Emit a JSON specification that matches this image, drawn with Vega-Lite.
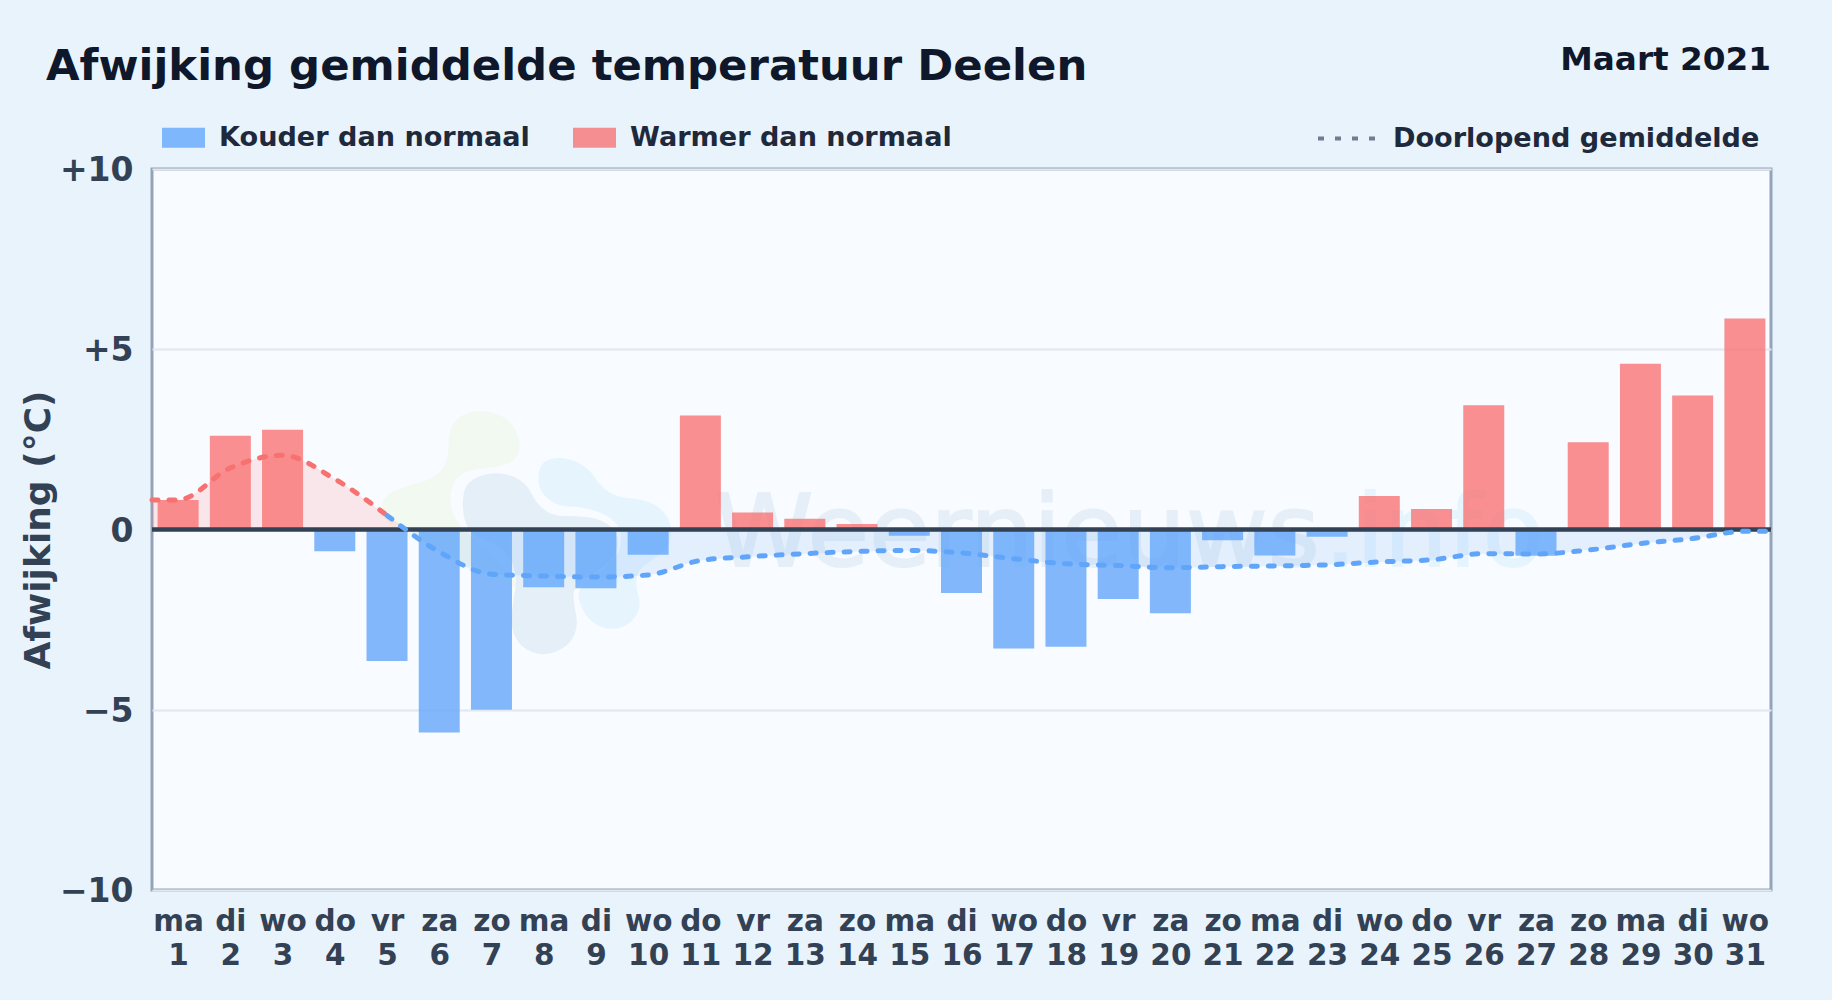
{"$schema":"https://vega.github.io/schema/vega-lite/v6.json","width":1619,"height":721,"autosize":{"type":"none"},"padding":{"left":152,"top":169,"right":61,"bottom":110},"background":"#e8f3fc","view":{"fill":"#f8fbff","stroke":"#94a3b8","strokeWidth":3},"config":{"font":"DejaVu Sans"},
"title":{"text":"Afwijking gemiddelde temperatuur Deelen","anchor":"start","frame":"group","dx":-106,"offset":-46,"fontSize":43.4,"fontWeight":"bold","color":"#0f172a","font":"DejaVu Sans"},
"datasets":{
"dagen":[{"day":1,"afwijking":0.82,"soort":"Warmer dan normaal"},{"day":2,"afwijking":2.6,"soort":"Warmer dan normaal"},{"day":3,"afwijking":2.77,"soort":"Warmer dan normaal"},{"day":4,"afwijking":-0.6,"soort":"Kouder dan normaal"},{"day":5,"afwijking":-3.65,"soort":"Kouder dan normaal"},{"day":6,"afwijking":-5.63,"soort":"Kouder dan normaal"},{"day":7,"afwijking":-5.0,"soort":"Kouder dan normaal"},{"day":8,"afwijking":-1.6,"soort":"Kouder dan normaal"},{"day":9,"afwijking":-1.63,"soort":"Kouder dan normaal"},{"day":10,"afwijking":-0.7,"soort":"Kouder dan normaal"},{"day":11,"afwijking":3.16,"soort":"Warmer dan normaal"},{"day":12,"afwijking":0.47,"soort":"Warmer dan normaal"},{"day":13,"afwijking":0.3,"soort":"Warmer dan normaal"},{"day":14,"afwijking":0.15,"soort":"Warmer dan normaal"},{"day":15,"afwijking":-0.17,"soort":"Kouder dan normaal"},{"day":16,"afwijking":-1.76,"soort":"Kouder dan normaal"},{"day":17,"afwijking":-3.3,"soort":"Kouder dan normaal"},{"day":18,"afwijking":-3.25,"soort":"Kouder dan normaal"},{"day":19,"afwijking":-1.93,"soort":"Kouder dan normaal"},{"day":20,"afwijking":-2.32,"soort":"Kouder dan normaal"},{"day":21,"afwijking":-0.3,"soort":"Kouder dan normaal"},{"day":22,"afwijking":-0.72,"soort":"Kouder dan normaal"},{"day":23,"afwijking":-0.2,"soort":"Kouder dan normaal"},{"day":24,"afwijking":0.93,"soort":"Warmer dan normaal"},{"day":25,"afwijking":0.57,"soort":"Warmer dan normaal"},{"day":26,"afwijking":3.45,"soort":"Warmer dan normaal"},{"day":27,"afwijking":-0.73,"soort":"Kouder dan normaal"},{"day":28,"afwijking":2.42,"soort":"Warmer dan normaal"},{"day":29,"afwijking":4.6,"soort":"Warmer dan normaal"},{"day":30,"afwijking":3.72,"soort":"Warmer dan normaal"},{"day":31,"afwijking":5.85,"soort":"Warmer dan normaal"}],
"warmLijn":[{"day":0.5,"gem":0.82},{"day":1,"gem":0.82},{"day":2,"gem":1.71},{"day":3,"gem":2.06},{"day":4,"gem":1.4},{"day":5,"gem":0.39}],
"koudLijn":[{"day":5,"gem":0.39},{"day":6,"gem":-0.62},{"day":7,"gem":-1.24},{"day":8,"gem":-1.29},{"day":9,"gem":-1.32},{"day":10,"gem":-1.26},{"day":11,"gem":-0.86},{"day":12,"gem":-0.75},{"day":13,"gem":-0.67},{"day":14,"gem":-0.61},{"day":15,"gem":-0.58},{"day":16,"gem":-0.65},{"day":17,"gem":-0.81},{"day":18,"gem":-0.95},{"day":19,"gem":-1.0},{"day":20,"gem":-1.06},{"day":21,"gem":-1.03},{"day":22,"gem":-1.01},{"day":23,"gem":-0.98},{"day":24,"gem":-0.9},{"day":25,"gem":-0.84},{"day":26,"gem":-0.67},{"day":27,"gem":-0.68},{"day":28,"gem":-0.57},{"day":29,"gem":-0.39},{"day":30,"gem":-0.25},{"day":31,"gem":-0.05},{"day":31.5,"gem":-0.05}],
"warmVlak":[{"day":0.5,"gem":0.82},{"day":1,"gem":0.82},{"day":2,"gem":1.71},{"day":3,"gem":2.06},{"day":4,"gem":1.4},{"day":5,"gem":0.39},{"day":5.4,"gem":0}],
"koudVlak":[{"day":5.4,"gem":0},{"day":6,"gem":-0.62},{"day":7,"gem":-1.24},{"day":8,"gem":-1.29},{"day":9,"gem":-1.32},{"day":10,"gem":-1.26},{"day":11,"gem":-0.86},{"day":12,"gem":-0.75},{"day":13,"gem":-0.67},{"day":14,"gem":-0.61},{"day":15,"gem":-0.58},{"day":16,"gem":-0.65},{"day":17,"gem":-0.81},{"day":18,"gem":-0.95},{"day":19,"gem":-1.0},{"day":20,"gem":-1.06},{"day":21,"gem":-1.03},{"day":22,"gem":-1.01},{"day":23,"gem":-0.98},{"day":24,"gem":-0.9},{"day":25,"gem":-0.84},{"day":26,"gem":-0.67},{"day":27,"gem":-0.68},{"day":28,"gem":-0.57},{"day":29,"gem":-0.39},{"day":30,"gem":-0.25},{"day":31,"gem":-0.05},{"day":31.5,"gem":-0.05}],
"logo":[{"naam":"logo"}]},
"layer":[
{"data":{"name":"logo"},"mark":{"type":"point","filled":true,"size":4,"opacity":1,"fill":"#f2f9f1","shape":"M-43,-83.5 Q-43,-100 -37,-107.5 Q-31,-115 -19.5,-117.5 Q-8,-120 5,-115.5 Q18,-111 23.5,-100.5 Q29,-90 28,-81 Q27,-72 19.5,-67.5 Q12,-63 -1,-62 Q-14,-61 -24,-58 Q-34,-55 -38,-45.5 Q-42,-36 -41,-26 Q-40,-16 -34,-8 Q-28,0 -14,12.5 Q0,25 16.5,43.5 Q33,62 17.5,56 Q2,50 -18,38.5 Q-38,27 -59.5,18.5 Q-81,10 -95.5,0 Q-110,-10 -110,-21 Q-110,-32 -99,-37.5 Q-88,-43 -73.5,-46.5 Q-59,-50 -51,-58.5 Q-43,-67 -43,-83.5 Z"},"encoding":{"x":{"datum":7,"type":"quantitative"},"y":{"datum":0,"type":"quantitative"}}},
{"data":{"name":"logo"},"mark":{"type":"point","filled":true,"size":4,"opacity":1,"fill":"#e6f4fe","shape":"M47.5,-45 Q46,-53 48.5,-61 Q51,-69 61.5,-71 Q72,-73 84,-68 Q96,-63 102.5,-53 Q109,-43 117.5,-37.5 Q126,-32 141,-31 Q156,-30 166.5,-22.5 Q177,-15 179,-4 Q181,7 176.5,15 Q172,23 159,31.5 Q146,40 145,48.5 Q144,57 147,67 Q150,77 144.5,86 Q139,95 129,98 Q119,101 109,97 Q99,93 93,83 Q87,73 87,65 Q87,57 107,43.5 Q127,30 129,15 Q131,0 123.5,-7.5 Q116,-15 102.5,-19 Q89,-23 77.5,-23 Q66,-23 57.5,-30 Q49,-37 47.5,-45 Z"},"encoding":{"x":{"datum":7,"type":"quantitative"},"y":{"datum":0,"type":"quantitative"}}},
{"data":{"name":"logo"},"mark":{"type":"point","filled":true,"size":4,"opacity":1,"fill":"#e5eff8","shape":"M-28.5,-21.5 Q-29,-33 -26.5,-40.5 Q-24,-48 -13.5,-52.5 Q-3,-57 9,-56 Q21,-55 29,-49 Q37,-43 40.5,-35 Q44,-27 52.5,-20 Q61,-13 73.5,-13.5 Q86,-14 98.5,-12 Q111,-10 118.5,-3.5 Q126,3 126.5,13 Q127,23 118,31.5 Q109,40 95.5,48.5 Q82,57 82,65 Q82,73 84.5,85 Q87,97 82,107 Q77,117 64.5,122 Q52,127 40.5,122.5 Q29,118 24,107.5 Q19,97 20,87 Q21,77 23.5,62 Q26,47 21,33.5 Q16,20 -1,13.5 Q-18,7 -23,-1.5 Q-28,-10 -28.5,-21.5 Z"},"encoding":{"x":{"datum":7,"type":"quantitative"},"y":{"datum":0,"type":"quantitative"}}},
{"data":{"values":[{"merk":"Weernieuws"}]},"mark":{"type":"text","align":"left","baseline":"alphabetic","fontSize":100,"font":"DejaVu Sans","color":"#e6eff8","stroke":"#e6eff8","strokeWidth":2},"encoding":{"x":{"datum":11.27,"type":"quantitative"},"y":{"datum":-1.0,"type":"quantitative"},"text":{"field":"merk"}}},
{"data":{"values":[{"merk":".info"}]},"mark":{"type":"text","align":"right","baseline":"alphabetic","fontSize":100,"font":"DejaVu Sans","color":"#e6f4fe","stroke":"#e6f4fe","strokeWidth":2},"encoding":{"x":{"datum":27.15,"type":"quantitative"},"y":{"datum":-1.0,"type":"quantitative"},"text":{"field":"merk"}}},
{"data":{"name":"warmVlak"},"mark":{"type":"area","interpolate":"monotone","color":"#f87171","opacity":0.15},"encoding":{"x":{"field":"day","type":"quantitative"},"y":{"field":"gem","type":"quantitative"},"y2":{"datum":0}}},
{"data":{"name":"koudVlak"},"mark":{"type":"area","interpolate":"monotone","color":"#60a5fa","opacity":0.13},"encoding":{"x":{"field":"day","type":"quantitative"},"y":{"field":"gem","type":"quantitative"},"y2":{"datum":0}}},
{"data":{"name":"dagen"},"mark":{"type":"bar","size":41,"opacity":0.78,"orient":"vertical"},"encoding":{"x":{"field":"day","type":"quantitative","scale":{"domain":[0.5,31.5],"nice":false,"zero":false,"padding":0},"axis":{"values":[1,2,3,4,5,6,7,8,9,10,11,12,13,14,15,16,17,18,19,20,21,22,23,24,25,26,27,28,29,30,31],"title":null,"grid":false,"domain":false,"ticks":false,"labelOverlap":false,"labelFlush":false,"labelBound":false,"labelFontSize":29.5,"labelFontWeight":"bold","labelColor":"#334155","labelFont":"DejaVu Sans","labelPadding":17,"labelLineHeight":34,"labelExpr":"[['zo','ma','di','wo','do','vr','za'][datum.value % 7], '' + datum.value]"}},"y":{"field":"afwijking","type":"quantitative","scale":{"domain":[-10,10],"nice":false},"axis":{"values":[-10,-5,0,5,10],"title":"Afwijking (°C)","titleFontSize":36,"titleFontWeight":"bold","titleColor":"#334155","titleFont":"DejaVu Sans","titlePadding":2,"grid":true,"gridColor":"#e2e8f0","gridWidth":2,"domain":false,"ticks":false,"labelFontSize":33,"labelFontWeight":"bold","labelColor":"#334155","labelFont":"DejaVu Sans","labelPadding":19,"labelOffset":1.5,"labelExpr":"datum.value > 0 ? '+' + datum.value : (datum.value < 0 ? '−' + (-datum.value) : '0')"}},"y2":{"datum":0},"color":{"field":"soort","type":"nominal","scale":{"domain":["Kouder dan normaal","Warmer dan normaal"],"range":["#60a5fa","#f87171"]},"legend":{"orient":"none","legendX":10,"legendY":-53,"direction":"horizontal","columns":2,"title":null,"symbolType":"M-1,-0.465H1V0.465H-1Z","symbolSize":1849,"symbolStrokeWidth":0,"labelFontSize":27.1,"labelFontWeight":"bold","labelColor":"#1e293b","labelFont":"DejaVu Sans","labelOffset":14,"labelLimit":600,"columnPadding":43,"padding":0}}}},
{"mark":{"type":"rule","color":"#334155","strokeWidth":4.5},"data":{"values":[{"nul":0}]},"encoding":{"y":{"field":"nul","type":"quantitative"}}},
{"data":{"name":"warmLijn"},"mark":{"type":"line","interpolate":"monotone","color":"#f87171","strokeWidth":5,"strokeCap":"round"},"encoding":{"x":{"field":"day","type":"quantitative"},"y":{"field":"gem","type":"quantitative"},"strokeDash":{"datum":"Doorlopend gemiddelde","type":"nominal","scale":{"domain":["Doorlopend gemiddelde"],"range":[[6,11]]},"legend":{"orient":"none","legendX":1164,"legendY":-61,"title":null,"symbolType":"stroke","symbolSize":3249,"symbolStrokeColor":"#6f7d91","symbolStrokeWidth":4,"labelFontSize":27.1,"labelFontWeight":"bold","labelColor":"#1e293b","labelFont":"DejaVu Sans","labelOffset":16,"labelLimit":600,"padding":0,"encode":{"symbols":{"update":{"strokeDash":{"value":[5,12]},"stroke":{"value":"#6f7d91"},"strokeCap":{"value":"butt"}}}}}}}},
{"data":{"name":"koudLijn"},"mark":{"type":"line","interpolate":"monotone","color":"#60a5fa","strokeWidth":5,"strokeCap":"round"},"encoding":{"x":{"field":"day","type":"quantitative"},"y":{"field":"gem","type":"quantitative"},"strokeDash":{"datum":"Doorlopend gemiddelde","type":"nominal"}}},
{"data":{"values":[{"maand":"Maart 2021"}]},"mark":{"type":"text","align":"right","baseline":"alphabetic","fontSize":32.7,"fontWeight":"bold","font":"DejaVu Sans","color":"#0f172a"},"encoding":{"x":{"datum":31.5,"type":"quantitative"},"y":{"datum":12.76,"type":"quantitative"},"text":{"field":"maand"}}}
]}
